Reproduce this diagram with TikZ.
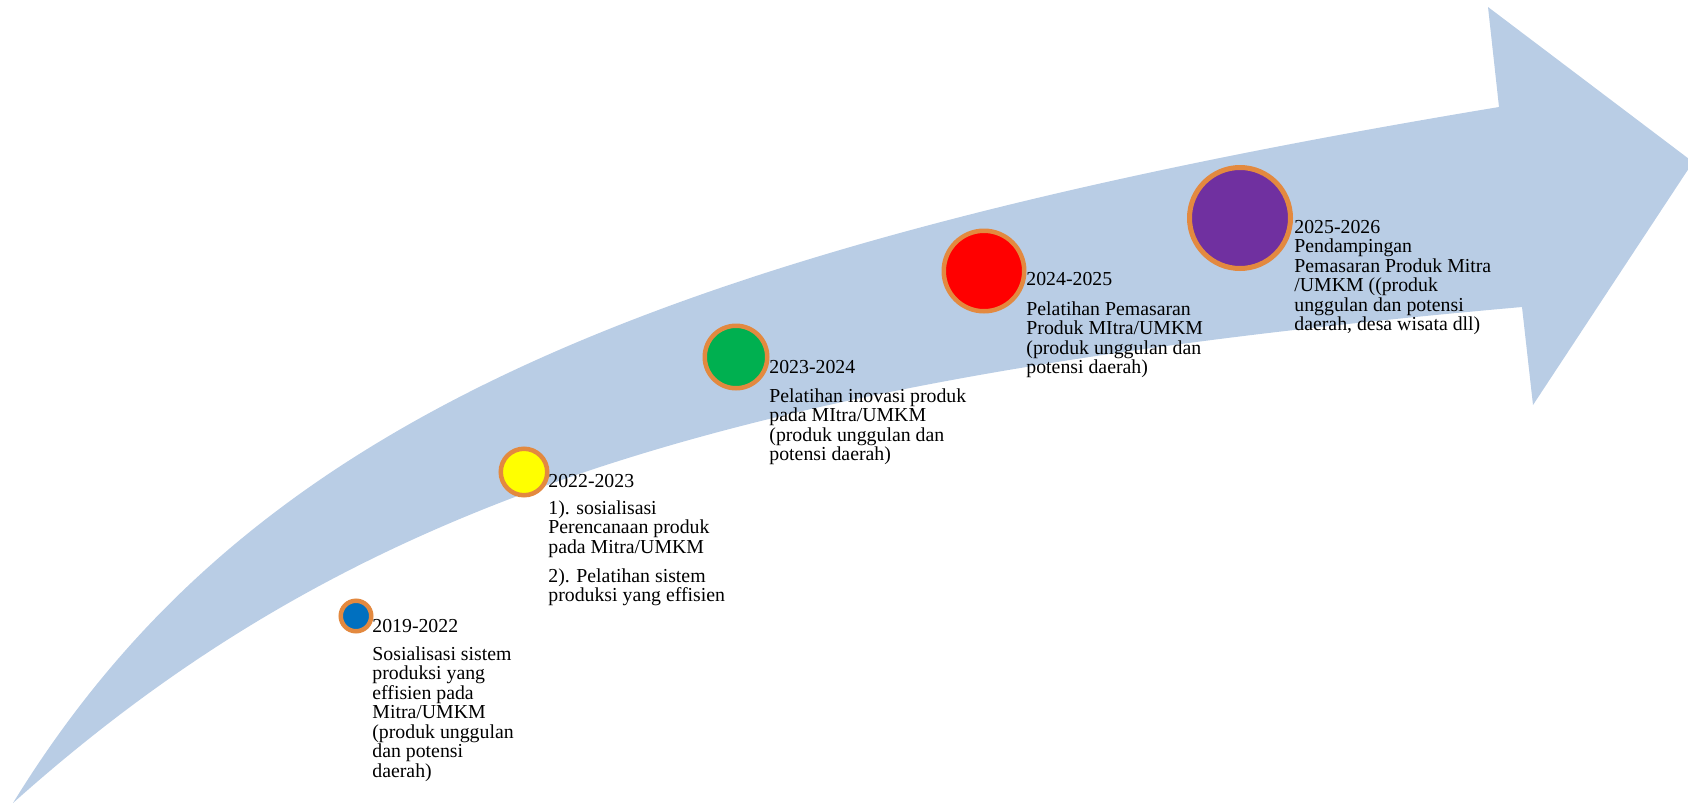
\documentclass[tikz,border=0pt]{standalone}
\usepackage{fontspec}
\setmainfont{Liberation Serif}
\definecolor{arrowblue}{HTML}{B9CDE5}
\definecolor{ringorange}{HTML}{E3893F}
\definecolor{dotblue}{HTML}{0070C0}
\definecolor{dotyellow}{HTML}{FFFF00}
\definecolor{dotgreen}{HTML}{00B050}
\definecolor{dotred}{HTML}{FF0000}
\definecolor{dotpurple}{HTML}{7030A0}
\begin{document}
\begin{tikzpicture}[x=0.5pt,y=-0.5pt,
  milestone/.style={circle, draw=ringorange, line width=2.25pt, inner sep=0pt},
  desc/.style={anchor=north west, inner sep=0pt, align=left,
    font=\fontsize{9.9}{9.75}\selectfont}]
\useasboundingbox (0,0) rectangle (1688,804);
\clip (0,0) rectangle (1688,804);
% curved arrow
\coordinate (tail) at (13,803);
\coordinate (shafttop) at (1499,107);
\coordinate (headtop) at (1488,7);
\coordinate (tip) at (1693,162);
\coordinate (headbot) at (1533,405);
\coordinate (shaftbot) at (1522,307);
\fill[arrowblue]
  (tail) .. controls (240,434) and (620,253) .. (shafttop)
  -- (headtop) -- (tip) -- (headbot) -- (shaftbot)
  .. controls (729,377) and (351,501) .. (tail)
  -- cycle;
% milestones
\node[milestone, fill=dotblue, minimum size=15.25pt] (d1) at (356,616) {};
\node[milestone, fill=dotyellow, minimum size=23.25pt] (d2) at (524,472) {};
\node[milestone, fill=dotgreen, minimum size=31.25pt] (d3) at (736,357) {};
\node[milestone, fill=dotred, minimum size=40.25pt] (d4) at (984,271) {};
\node[milestone, fill=dotpurple, line width=2.5pt, minimum size=50.5pt] (d5) at (1240,218) {};
% texts
\node[desc] (t1) at (372,618.2) {\rule{0pt}{6.9pt}2019-2022\\[4.25pt]
  Sosialisasi sistem\\ produksi yang\\ effisien pada\\ Mitra/UMKM\\ (produk unggulan\\ dan potensi\\ daerah)};
\node[desc] (t2) at (548,473.2) {\rule{0pt}{6.9pt}2022-2023\\[3.75pt]
  1). sosialisasi\\ Perencanaan produk\\ pada Mitra/UMKM\\[4.75pt]
  2). Pelatihan sistem\\ produksi yang effisien};
\node[desc] (t3) at (769,359.2) {\rule{0pt}{6.9pt}2023-2024\\[4.75pt]
  Pelatihan inovasi produk\\ pada MItra/UMKM\\ (produk unggulan dan\\ potensi daerah)};
\node[desc] (t4) at (1026,271.2) {\rule{0pt}{6.9pt}2024-2025\\[5.25pt]
  Pelatihan Pemasaran\\ Produk MItra/UMKM\\ (produk unggulan dan\\ potensi daerah)};
\node[desc] (t5) at (1294,219.2) {\rule{0pt}{6.9pt}2025-2026\\
  Pendampingan\\ Pemasaran Produk Mitra\\ /UMKM ((produk\\ unggulan dan potensi\\ daerah, desa wisata dll)};
\end{tikzpicture}
\end{document}
